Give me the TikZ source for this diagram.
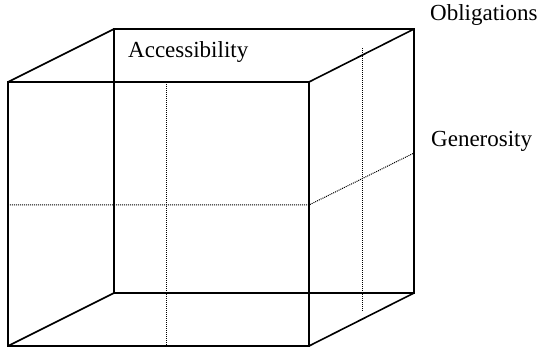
\documentclass[tikz,border=0pt]{standalone}
\usepackage{fontspec}
\setmainfont{Liberation Serif}
\begin{document}
\begin{tikzpicture}[x=1pt,y=-1pt,
  edge/.style={line width=1.6pt},
  grid/.style={line width=1pt,dash pattern=on 1pt off 1pt},
  lbl/.style={anchor=base west,inner sep=0pt,font=\fontsize{23}{26}\selectfont}]
\useasboundingbox (0,0) rectangle (539,350);
% front face
\coordinate (ftl) at (8,82);
\coordinate (ftr) at (309,82);
\coordinate (fbl) at (8,346);
\coordinate (fbr) at (309,346);
% back face
\coordinate (btl) at (114,29);
\coordinate (btr) at (414,29);
\coordinate (bbl) at (114,293);
\coordinate (bbr) at (414,293);
% dotted guides
\coordinate (fvt) at (166,82);
\coordinate (fvb) at (166,346);
\coordinate (fhl) at (8,205);
\coordinate (fhr) at (309,205);
\coordinate (rhr) at (414,153);
\coordinate (rvt) at (362,48);
\coordinate (rvb) at (362,312);
\draw[grid] (fvt) -- (fvb);
\draw[grid] (fhl) -- (fhr) -- (rhr);
\draw[grid] (rvt) -- (rvb);
% edges
\draw[edge] (ftl) rectangle (fbr);
\draw[edge] (btl) -- (btr) -- (bbr) -- (bbl) -- cycle;
\draw[edge] (ftl) -- (btl);
\draw[edge] (ftr) -- (btr);
\draw[edge] (fbl) -- (bbl);
\draw[edge] (fbr) -- (bbr);
% labels
\node[lbl] (acc) at (128,58) {Accessibility};
\node[lbl] (obl) at (430,21) {Obligations};
\node[lbl] (gen) at (431,147) {Generosity};
\end{tikzpicture}
\end{document}
